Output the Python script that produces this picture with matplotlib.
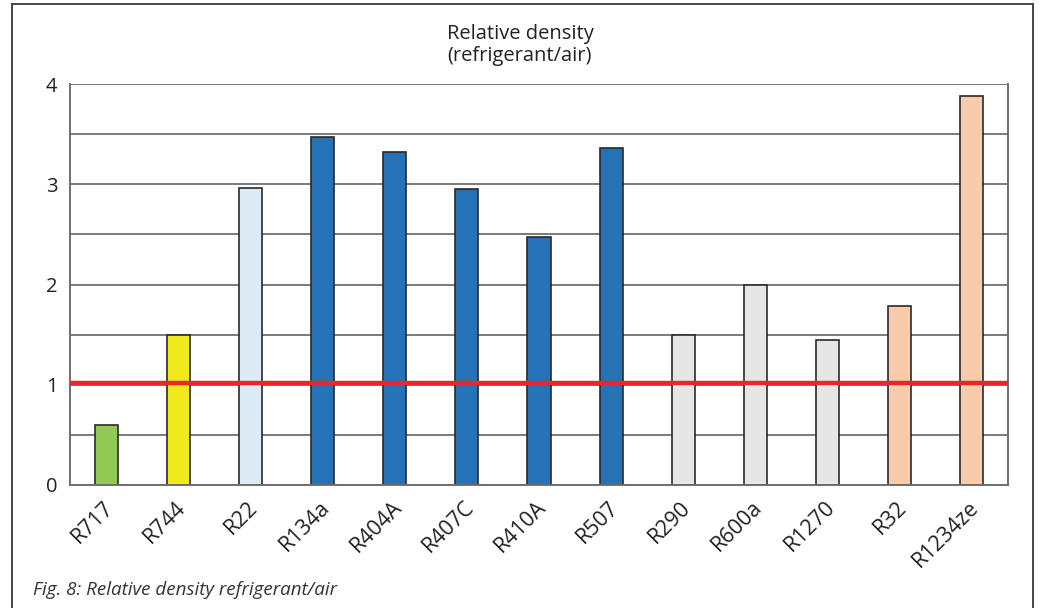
import matplotlib.pyplot as plt
import matplotlib.lines as mlines
import matplotlib.transforms as mtransforms

plt.rcParams['font.family'] = ['Open Sans', 'DejaVu Sans']

# refrigerants and their density relative to air
refrigerants = ['R717', 'R744', 'R22', 'R134a', 'R404A', 'R407C', 'R410A',
                'R507', 'R290', 'R600a', 'R1270', 'R32', 'R1234ze']
rel_density = [0.6, 1.5, 2.96, 3.47, 3.32, 2.95, 2.47, 3.36, 1.5, 2.0, 1.45, 1.79, 3.88]
bar_colors = ['#92c953', '#f1e91c', '#ddebf6', '#2573b6', '#2573b6', '#2573b6',
              '#2573b6', '#2573b6', '#e7e6e6', '#e7e6e6', '#e7e6e6', '#f8cbaa', '#f8cbaa']
air_level = 1.02

fig = plt.figure(figsize=(10.4, 6.08), dpi=100)
ax = fig.add_axes([70/1040, 123/608, 938/1040, 401/608])

x = list(range(len(refrigerants)))
ax.set_axisbelow(True)
ax.yaxis.grid(True, color='#7a7a7a', linewidth=1.4)
ax.bar(x, rel_density, width=0.32, color=bar_colors, edgecolor='#2a2a2a', linewidth=1.2)
ax.axhline(air_level, color='#e8262b', linewidth=3.2, zorder=5)

ax.set_xlim(-0.5, len(refrigerants) - 0.5)
ax.set_ylim(0, 4)
ax.set_yticks([0, 0.5, 1, 1.5, 2, 2.5, 3, 3.5, 4])
ax.set_yticklabels(['0', '', '1', '', '2', '', '3', '', '4'])
ax.set_xticks(x)
ax.set_xticklabels(refrigerants, rotation=45, ha='right', va='center', rotation_mode='anchor')
ax.tick_params(axis='y', length=0, labelsize=14.5, colors='#222222', pad=9)
ax.tick_params(axis='x', length=0, labelsize=15.5, colors='#222222', pad=14)
shift = mtransforms.ScaledTranslation(0.04, 0, fig.dpi_scale_trans)
for lbl in ax.get_xticklabels():
    lbl.set_transform(lbl.get_transform() + shift)
for s in ax.spines.values():
    s.set_color('#6e6e6e')
    s.set_linewidth(1.4)
ax.spines['top'].set_visible(False)

fig.text(0.5, 1 - 45/608, 'Relative density\n(refrigerant/air)', ha='center', va='center',
         fontsize=14.5, color='#222222', linespacing=1.15)
fig.text(33/1040, 1 - 590/608, 'Fig. 8: Relative density refrigerant/air', ha='left', va='center',
         fontsize=13.5, style='italic', color='#333333')

# frame around the figure
fx0, fx1, fy1 = 12/1040, 1033/1040, 1 - 4/608
for xs, ys in [([fx0, fx0], [0, fy1]), ([fx0, fx1], [fy1, fy1]), ([fx1, fx1], [fy1, 0])]:
    fig.add_artist(mlines.Line2D(xs, ys, color='#444444', linewidth=1.4, transform=fig.transFigure))

fig.savefig('out.png', dpi=100)
